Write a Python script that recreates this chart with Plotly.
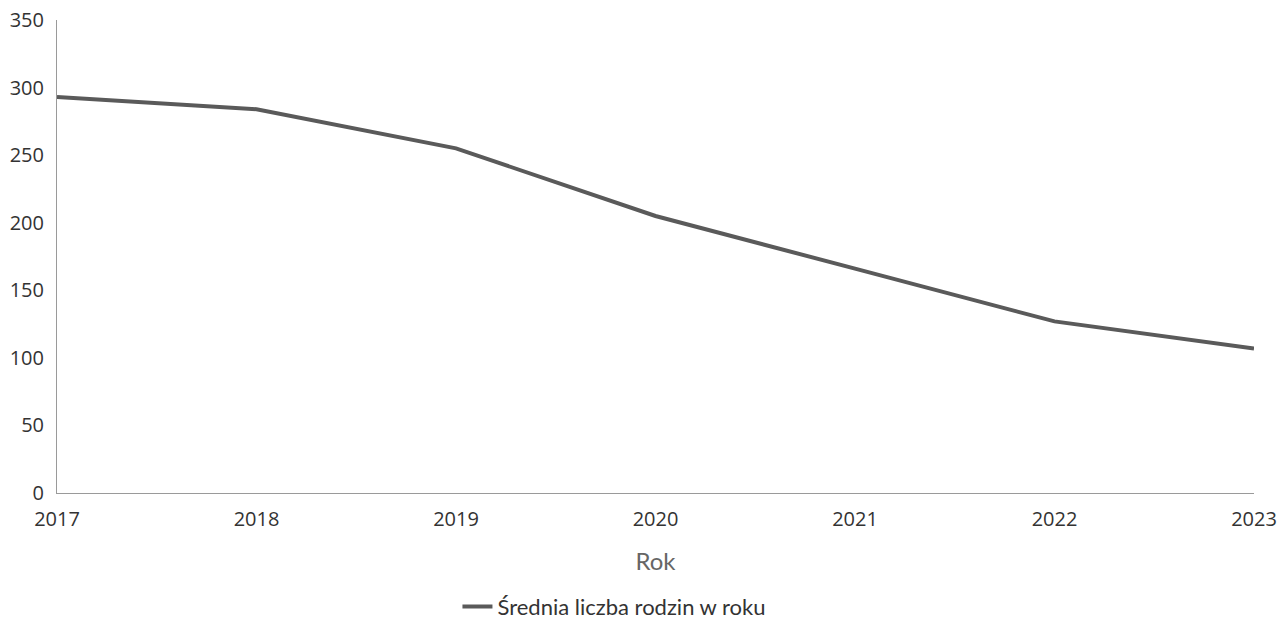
import plotly.graph_objects as go

# Data
years = [2017, 2018, 2019, 2020, 2021, 2022, 2023]
avg_families = [293, 284, 255, 205, 166, 127, 107]
y_ticks = [0, 50, 100, 150, 200, 250, 300, 350]

fig = go.Figure()

fig.add_trace(go.Scatter(
    x=years,
    y=avg_families,
    mode="lines",
    name="Średnia liczba rodzin w roku",
    line=dict(color="#5a5a5a", width=4),
))

fig.update_layout(
    width=1285,
    height=619,
    paper_bgcolor="white",
    plot_bgcolor="white",
    margin=dict(l=57, r=31, t=20, b=126, autoexpand=False),
    font=dict(family="Open Sans", color="#333333", size=20),
    showlegend=True,
    legend=dict(
        orientation="h",
        xref="container", yref="container",
        x=0.356, xanchor="left",
        y=0.02, yanchor="middle",
        font=dict(family="Lato", size=22, color="#333333"),
    ),
    xaxis=dict(
        title=dict(text="Rok", font=dict(family="Lato", size=24, color="#666666"), standoff=22),
        tickvals=years,
        range=[2017, 2023],
        showgrid=False,
        zeroline=False,
        showline=True,
        linecolor="#9a9a9a",
        linewidth=1,
        ticks="outside",
        ticklen=8,
        tickcolor="rgba(0,0,0,0)",
        automargin=False,
    ),
    yaxis=dict(
        tickvals=y_ticks,
        range=[0, 350],
        showgrid=False,
        zeroline=False,
        showline=True,
        linecolor="#9a9a9a",
        linewidth=1,
        ticks="outside",
        ticklen=8,
        tickcolor="rgba(0,0,0,0)",
        automargin=False,
    ),
)

# drop the default 8px page margin so the chart sits at the window origin
fig.write_html(
    "out.html",
    config={"displayModeBar": False},
    post_script="document.body.style.margin='0';",
)
